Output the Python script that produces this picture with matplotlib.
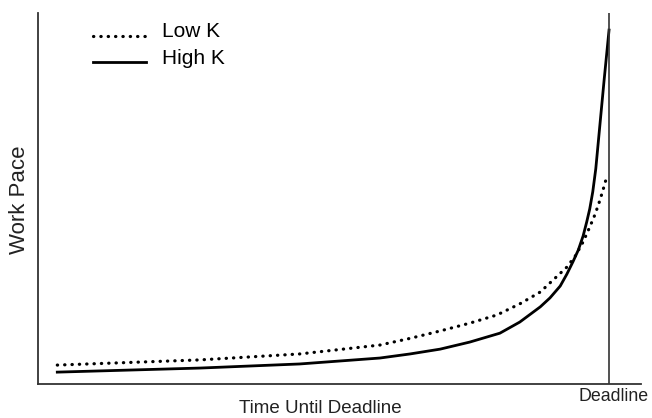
import matplotlib
matplotlib.use('Agg')
import matplotlib.pyplot as plt
import matplotlib.transforms as mtransforms
from matplotlib.legend_handler import HandlerLine2D

plt.rcParams['font.family'] = ['Liberation Sans', 'DejaVu Sans']

# time axis runs 0..100, deadline near the right edge
deadline = 94.7

low_x = [3.2, 26.9, 43.4, 56.7, 61.7, 66.7, 71.6, 76.1, 79.9, 83.3, 85.4, 87.7,
         89.1, 90.4, 91.5, 92.4, 93.2, 93.7, 94.4]
low_y = [5.1, 6.5, 8.1, 10.5, 12.3, 14.3, 16.4, 18.6, 21.6, 24.8, 28.0, 31.5,
         34.5, 38.3, 42.3, 45.8, 49.6, 52.3, 56.3]

high_x = [3.2, 26.9, 43.4, 56.7, 61.7, 66.7, 71.6, 76.6, 79.9, 83.3, 84.9, 86.6,
          87.7, 88.7, 89.6, 90.4, 91.0, 91.5, 92.0, 92.5, 93.2, 93.9, 94.7]
high_y = [3.2, 4.3, 5.4, 7.0, 8.1, 9.4, 11.3, 13.7, 16.7, 20.8, 23.2, 26.4,
          29.6, 32.9, 36.1, 39.9, 43.7, 47.2, 51.8, 58.0, 70.1, 82.2, 95.4]


class LowHandle(HandlerLine2D):
    # legend marks sit a bit below the text centre in the original
    def create_artists(self, legend, orig_handle, xdescent, ydescent,
                       width, height, fontsize, trans):
        off = mtransforms.ScaledTranslation(0, -6/100, legend.figure.dpi_scale_trans)
        return super().create_artists(legend, orig_handle, xdescent, ydescent,
                                      width, height, fontsize, trans + off)


fig = plt.figure(figsize=(6.52, 4.18), dpi=100)
ax = fig.add_axes([38/652, 1-384/418, 603/652, 371/418])

l1, = ax.plot(low_x, low_y, color='black', lw=2.3, linestyle=(0, (0.1, 2.2)),
              dash_capstyle='round', label='Low K')
l2, = ax.plot(high_x, high_y, color='black', lw=2.0, label='High K',
              solid_joinstyle='round')

ax.axvline(deadline, color='#333333', lw=1.2)

ax.set_xlim(0, 100)
ax.set_ylim(0, 100)
ax.spines['top'].set_visible(False)
ax.spines['right'].set_visible(False)
for s in ['left', 'bottom']:
    ax.spines[s].set_color('#333333')
    ax.spines[s].set_linewidth(1.3)

ax.set_yticks([])
ax.set_xticks([deadline])
ax.set_xticklabels(['Deadline'], fontsize=12.8, color='#222222')
ax.tick_params(axis='x', length=0, pad=3)
shift = mtransforms.ScaledTranslation(5/100, 0, fig.dpi_scale_trans)
for lab in ax.get_xticklabels():
    lab.set_transform(lab.get_transform() + shift)

ax.set_xlabel('Time Until Deadline', fontsize=13.5, color='#222222')
ax.xaxis.set_label_coords(0.469, -0.043)
ax.set_ylabel('Work Pace', fontsize=16, color='#222222')
ax.yaxis.set_label_coords(-0.013, 0.496)

ax.legend(handles=[l1, l2], loc='upper left', bbox_to_anchor=(0.091, 0.975),
          frameon=False, fontsize=15, handlelength=2.55, handletextpad=0.77,
          labelspacing=0.35, borderpad=0, borderaxespad=0,
          handler_map={l1: LowHandle(), l2: LowHandle()})

fig.savefig('out.png', dpi=100)
